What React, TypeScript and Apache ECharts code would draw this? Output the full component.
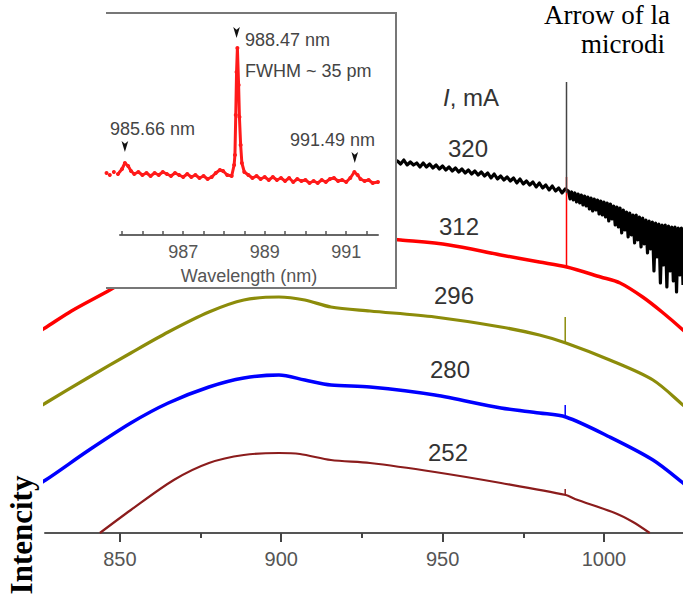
import React, { useEffect, useRef } from "react";
import * as echarts from "echarts";

// ---------- main chart data (wavelength nm, intensity a.u.) ----------
const mainTicks = [850, 900, 950, 1000];
const mainMinorTicks = [875, 925, 975];

const curve320: number[][] = [
  [850, 380], [870, 398], [890, 404], [905, 402], [920, 390], [930, 378],
  [936, 372], [937, 369], [938, 373], [939, 368], [940, 371], [941, 368], [942, 370], [943, 366], [944, 370],
  [945, 366], [946, 369], [947, 365], [948, 368], [949, 364], [950, 367], [951, 363], [952, 366], [953, 362],
  [954, 365], [955, 361], [956, 364], [957, 360], [958, 363], [959, 359], [960, 362], [961, 358], [962, 361],
  [963, 357], [964, 360], [965, 355], [966, 359], [967, 354], [968, 357], [969, 353], [970, 356], [971, 352],
  [972, 355], [973, 350], [974, 354], [975, 349], [976, 352], [977, 348], [978, 351], [979, 346], [980, 350],
  [981, 345], [982, 348], [983, 343], [984, 347], [985, 342], [986, 345], [987, 340], [988, 344],
  [989, 342], [989.5, 334], [990, 341], [990.5, 333], [991, 340], [991.5, 331], [992, 339], [992.5, 330],
  [993, 338], [993.5, 328], [994, 337], [994.5, 327], [995, 336], [995.5, 324], [996, 335], [996.5, 322],
  [997, 334], [997.5, 323], [998, 333], [998.5, 319], [999, 332], [999.5, 318], [1000, 331], [1000.5, 316],
  [1001, 330], [1001.5, 312], [1002, 329], [1002.5, 314], [1003, 327], [1003.5, 308], [1004, 326], [1004.5, 306],
  [1005, 325], [1005.5, 300], [1006, 323], [1006.5, 303], [1007, 321], [1007.5, 296], [1008, 320], [1008.5, 298],
  [1009, 318], [1009.5, 290], [1010, 318], [1010.5, 293], [1011, 316], [1011.5, 286], [1012, 315], [1012.5, 289],
  [1013, 313], [1013.5, 280], [1014, 312], [1014.5, 284], [1015, 311], [1015.5, 262], [1016, 310], [1016.5, 276],
  [1017, 309], [1017.5, 250], [1018, 308], [1018.5, 268], [1019, 308], [1019.5, 246], [1020, 307], [1020.5, 262],
  [1021, 306], [1021.5, 252], [1022, 306], [1022.5, 241], [1023, 305], [1023.5, 258], [1024, 305], [1024.5, 248],
];
const curve312: number[][] = [
  [818, 188], [826.8, 205], [835, 222], [846.9, 243], [860, 268], [875, 288], [890, 298], [905, 302],
  [920, 298], [937, 293], [952, 288], [968, 278], [980, 271], [988.5, 266], [999, 256], [1005, 250],
  [1012, 236], [1018, 221], [1024.5, 203], [1028, 192],
];
const curve296: number[][] = [
  [818, 113], [827, 130], [840, 155], [853.4, 180], [865, 201], [877.6, 221], [888.4, 233], [899.3, 236],
  [907.3, 233], [915.4, 226], [927.5, 222], [947.6, 216], [968.1, 206], [980, 198], [988.2, 190],
  [1001.8, 173], [1015.2, 153], [1024.5, 128], [1028, 118],
];
const curve280: number[][] = [
  [818, 36], [827, 53], [840, 82], [853.4, 110], [865, 130], [877.6, 146], [888.4, 155], [899.3, 158],
  [907.3, 153], [915.4, 148], [927.5, 146], [947.6, 138], [968.1, 125], [980, 120], [988.2, 116],
  [1001.8, 96], [1015.2, 73], [1024.5, 50], [1028, 40],
];
const curve252: number[][] = [
  [843.8, 0], [853.4, 23], [866.7, 53], [877.6, 70], [888.4, 78], [899.3, 80], [905.8, 79], [915.4, 73],
  [927.5, 70], [947.6, 61], [968.1, 50], [988.2, 38], [991, 34], [1003.4, 20], [1009, 11], [1014.2, 0],
];
// narrow laser line at ~988.4 nm seen on each spectrum
const spike320: number[][] = [[988.4, 340], [988.4, 451]];
const spike312: number[][] = [[988.4, 266], [988.4, 356]];
const spike296: number[][] = [[988.0, 190], [988.0, 216]];
const spike280: number[][] = [[988.0, 116], [988.0, 128]];
const spike252: number[][] = [[988.0, 38], [988.0, 44]];

const currentLabels = ["320", "312", "296", "280", "252"];

// ---------- inset data ----------
const insetLabelTicks = [987, 989, 991];
const insetMinorTicks = [985.5, 986, 986.5, 987, 987.5, 988, 988.5, 989, 989.5, 990, 990.5, 991, 991.5];
const insetSpectrum: number[][] = [
  [985.12, 62], [985.2, 60], [985.3, 63], [985.4, 61], [985.5, 66], [985.57, 72], [985.65, 69], [985.72, 64],
  [985.8, 61], [985.9, 63], [986.0, 60], [986.1, 62], [986.2, 59], [986.3, 62], [986.4, 60], [986.5, 63],
  [986.6, 61], [986.7, 59], [986.8, 62], [986.9, 60], [987.0, 58], [987.1, 61], [987.2, 58], [987.3, 60],
  [987.4, 57], [987.5, 59], [987.6, 56], [987.7, 58], [987.8, 62], [987.9, 65], [987.98, 64], [988.08, 60],
  [988.19, 59], [988.25, 70], [988.27, 80], [988.29, 120], [988.31, 163], [988.33, 187], [988.36, 150],
  [988.38, 118], [988.41, 90], [988.44, 72], [988.5, 63], [988.6, 60], [988.7, 57], [988.8, 59], [988.9, 56],
  [989.0, 58], [989.1, 55], [989.2, 58], [989.3, 55], [989.4, 57], [989.5, 54], [989.6, 57], [989.7, 53],
  [989.8, 56], [989.9, 54], [990.0, 55], [990.1, 52], [990.2, 54], [990.3, 52], [990.4, 55], [990.5, 53],
  [990.6, 56], [990.7, 57], [990.8, 54], [990.9, 55], [991.0, 53], [991.1, 57], [991.2, 63], [991.28, 60],
  [991.35, 56], [991.45, 54], [991.55, 55], [991.65, 52], [991.78, 53],
];
const insetArrows: number[][] = [[988.31, 197], [985.57, 83], [991.21, 72]];
const insetPeakLabels = ["988.47 nm", "985.66 nm", "991.49 nm"];

const SANS = "'Liberation Sans', Arial, sans-serif";
const SERIF = "'Liberation Serif', 'Times New Roman', serif";

export default function App() {
  const ref = useRef<HTMLDivElement>(null);
  useEffect(() => {
    if (!ref.current) return;
    const chart = echarts.init(ref.current, null, { renderer: "svg" });

    const mainLine = (data: number[][], color: string, width: number, z = 2) => ({
      type: "line",
      xAxisIndex: 0,
      yAxisIndex: 0,
      data,
      showSymbol: false,
      smooth: 0.3,
      z,
      lineStyle: { color, width, join: "round" },
      silent: true,
    });
    const spike = (data: number[][], color: string) => ({
      type: "line",
      xAxisIndex: 0,
      yAxisIndex: 0,
      data,
      showSymbol: false,
      z: 3,
      lineStyle: { color, width: 1.5 },
      silent: true,
    });

    const labelStyle = { fontSize: 24, fontFamily: SANS, fill: "#333" };
    const curveLabelPos = [
      [468, 148], [459, 226], [454, 295], [450, 369], [448, 452],
    ];
    const plain = (v: number) => String(v);

    const option: any = {
      animation: false,
      backgroundColor: "#fff",
      grid: [
        { left: 45, right: 0, top: 0, bottom: 64 },
        { left: 120, top: 13, width: 258, height: 222, z: 10 },
      ],
      xAxis: [
        {
          type: "value", gridIndex: 0, min: 826.8, max: 1024.5,
          axisLine: { show: true, lineStyle: { color: "#555", width: 2 } },
          axisTick: { show: true, length: 9, lineStyle: { color: "#444", width: 2 }, customValues: mainTicks },
          axisLabel: { customValues: mainTicks, formatter: plain, color: "#555", fontSize: 20, fontFamily: SANS, margin: 16 },
          splitLine: { show: false },
        },
        {
          type: "value", gridIndex: 0, min: 826.8, max: 1024.5, position: "bottom",
          axisLine: { show: false },
          axisTick: { show: true, length: 5, lineStyle: { color: "#444", width: 2 }, customValues: mainMinorTicks },
          axisLabel: { show: false },
          splitLine: { show: false },
        },
        {
          type: "value", gridIndex: 1, min: 985.45, max: 991.78, z: 10,
          name: "Wavelength (nm)", nameLocation: "middle", nameGap: 32,
          nameTextStyle: { color: "#555", fontSize: 18, fontFamily: SANS },
          axisLine: { show: true, lineStyle: { color: "#666", width: 2 } },
          axisTick: { show: true, inside: true, length: 4, lineStyle: { color: "#555", width: 1.5 }, customValues: insetMinorTicks },
          axisLabel: { customValues: insetLabelTicks, formatter: plain, color: "#555", fontSize: 18, fontFamily: SANS, margin: 8 },
          splitLine: { show: false },
        },
      ],
      yAxis: [
        { type: "value", gridIndex: 0, min: 0, max: 533, show: false },
        { type: "value", gridIndex: 1, min: 0, max: 222, show: false },
      ],
      series: [
        mainLine(curve252, "#8b1c1c", 2.2),
        spike(spike252, "#8b1c1c"),
        mainLine(curve280, "#0000ff", 3.5),
        spike(spike280, "#0000ff"),
        mainLine(curve296, "#8c8c0a", 3.2),
        spike(spike296, "#8c8c0a"),
        mainLine(curve312, "#ff0000", 3.5),
        spike(spike312, "#ff0000"),
        { ...mainLine(curve320, "#000000", 3.2), smooth: false },
        spike(spike320, "#444"),
        {
          type: "line",
          xAxisIndex: 2,
          yAxisIndex: 1,
          data: insetSpectrum,
          clip: false,
          z: 12,
          showSymbol: true,
          symbol: "circle",
          symbolSize: 4,
          itemStyle: { color: "#ff1a1a" },
          lineStyle: { color: "#ff1a1a", width: 3 },
          silent: true,
          markPoint: {
            z: 13,
            silent: true,
            symbol: "arrow",
            symbolRotate: 180,
            symbolSize: [5, 11],
            itemStyle: { color: "#111" },
            label: { show: false },
            data: insetArrows.map((c) => ({ coord: c })),
          },
        },
      ],
      graphic: [
        { type: "rect", z: 8, silent: true, shape: { x: 107, y: 13, width: 289, height: 275 }, style: { fill: "#fff" } },
        { type: "line", z: 9, silent: true, shape: { x1: 106, y1: 13, x2: 397, y2: 13 }, style: { stroke: "#777", lineWidth: 2 } },
        { type: "line", z: 9, silent: true, shape: { x1: 396, y1: 13, x2: 396, y2: 288 }, style: { stroke: "#777", lineWidth: 2 } },
        { type: "line", z: 9, silent: true, shape: { x1: 106, y1: 288, x2: 397, y2: 288 }, style: { stroke: "#777", lineWidth: 2 } },
        { type: "text", z: 20, x: 245, y: 40, style: { text: insetPeakLabels[0], fontSize: 18, fontFamily: SANS, fill: "#444", verticalAlign: "middle" } },
        { type: "text", z: 20, x: 245, y: 71, style: { text: "FWHM ~ 35 pm", fontSize: 18, fontFamily: SANS, fill: "#444", verticalAlign: "middle" } },
        { type: "text", z: 20, x: 110, y: 129, style: { text: insetPeakLabels[1], fontSize: 18, fontFamily: SANS, fill: "#444", verticalAlign: "middle" } },
        { type: "text", z: 20, x: 290, y: 140, style: { text: insetPeakLabels[2], fontSize: 18, fontFamily: SANS, fill: "#444", verticalAlign: "middle" } },
        ...currentLabels.map((t, i) => ({
          type: "text", z: 20, x: curveLabelPos[i][0], y: curveLabelPos[i][1],
          style: { ...labelStyle, text: t, align: "center", verticalAlign: "middle" },
        })),
        {
          type: "text", z: 20, x: 443, y: 97,
          style: {
            text: "{i|I}, mA", ...labelStyle, verticalAlign: "middle",
            rich: { i: { fontStyle: "italic", fontSize: 24, fontFamily: SANS, fill: "#333" } },
          },
        },
        { type: "text", z: 20, x: 544, y: 15, style: { text: "Arrow of la", fontSize: 27, fontFamily: SERIF, fill: "#000", verticalAlign: "middle" } },
        { type: "text", z: 20, x: 581, y: 44, style: { text: "microdi", fontSize: 27, fontFamily: SERIF, fill: "#000", verticalAlign: "middle" } },
        {
          type: "text", z: 20, x: 21, y: 535, rotation: Math.PI / 2,
          style: { text: "Intencity", fontSize: 31, fontWeight: "bold", fontFamily: SERIF, fill: "#000", align: "center", verticalAlign: "middle" },
        },
      ],
    };
    chart.setOption(option);
    return () => chart.dispose();
  }, []);

  return (
    <div
      ref={ref}
      style={{ position: "fixed", left: 0, top: 0, width: 683, height: 597, background: "#fff" }}
    />
  );
}
